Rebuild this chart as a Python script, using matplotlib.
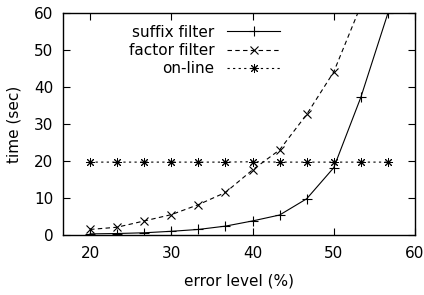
import numpy as np
import matplotlib.pyplot as plt

plt.rcParams["font.family"] = ["DejaVu Sans"]

error_level = [20.0, 23.33, 26.67, 30.0, 33.33, 36.67, 40.0, 43.33, 46.67, 50.0, 53.33, 56.67]
suffix_filter = [0.3, 0.4, 0.6, 1.0, 1.5, 2.4, 3.8, 5.4, 9.8, 18.2, 37.2, 60.0]
factor_filter = [1.5, 2.1, 3.8, 5.5, 8.2, 11.5, 17.6, 23.0, 32.6, 44.1, 62.0]
online = [19.7, 19.7, 19.7, 19.7, 19.7, 19.7, 19.8, 19.7, 19.7, 19.7, 19.7, 19.7]

FS = 11

fig = plt.figure(figsize=(4.24, 2.95), dpi=100)
ax = fig.add_axes([0.1486, 0.2034, 0.8302, 0.7525])

ax.plot(error_level, suffix_filter, color="black", lw=0.8, marker="+",
        markersize=6.5, mew=0.8, label="suffix filter")
ax.plot(error_level[:len(factor_filter)], factor_filter, color="black", lw=0.8,
        marker="x", markersize=6, mew=0.8, dashes=(4, 3), label="factor filter")
ax.plot(error_level, online, color="black", lw=0.8, marker=(8, 2, 0),
        markersize=6.5, mew=0.7, dashes=(2, 3), label="on-line")

ax.set_xlim(16.67, 60)
ax.set_ylim(0, 60)
ax.set_xticks([20, 30, 40, 50, 60])
ax.set_yticks([0, 10, 20, 30, 40, 50, 60])
ax.tick_params(direction="in", length=5, width=0.8, labelsize=FS,
               top=True, right=True)
ax.tick_params(axis="y", pad=7)
ax.tick_params(axis="x", pad=8)
for s in ax.spines.values():
    s.set_linewidth(1.0)

ax.set_xlabel("error level (%)", fontsize=FS, labelpad=9)
ax.set_ylabel("time (sec)", fontsize=FS, labelpad=9)

leg = ax.legend(loc="upper right", bbox_to_anchor=(0.635, 0.975), frameon=False,
                markerfirst=False, fontsize=FS, handlelength=3.5,
                handletextpad=0.8, labelspacing=0.22, borderaxespad=0)
for vp in leg._legend_handle_box.get_children():
    vp.align = "right"

fig.savefig("out.png", dpi=100)
